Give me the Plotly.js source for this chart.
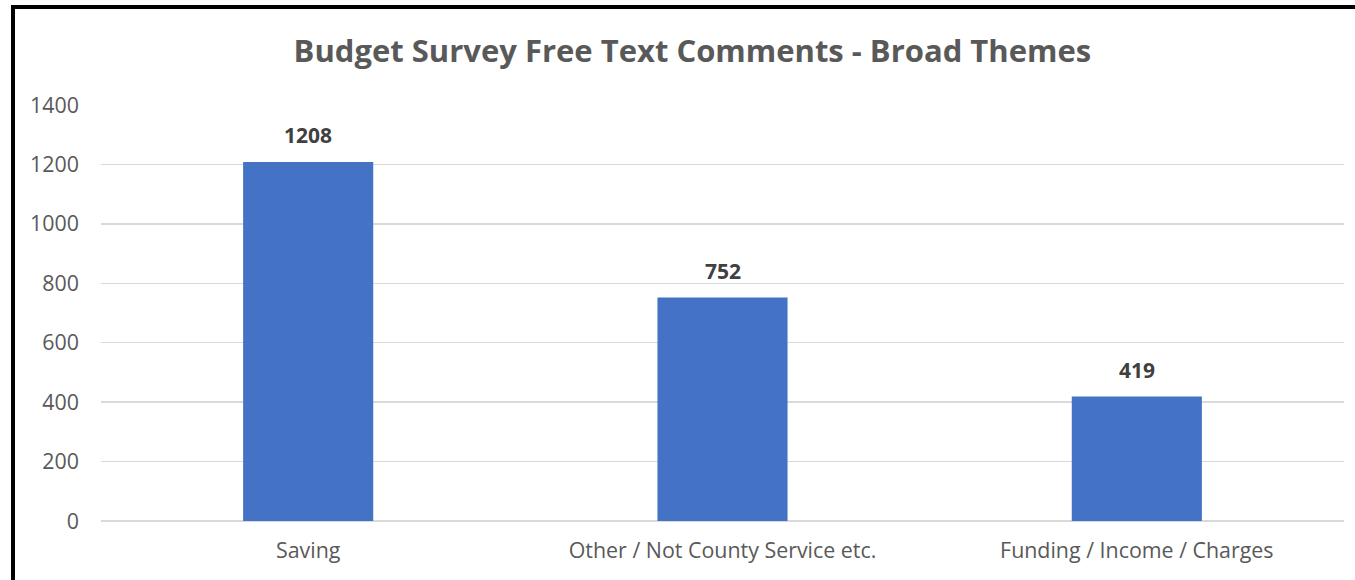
<!DOCTYPE html>
<html>
<head>
<meta charset="utf-8">
<script src="https://cdn.plot.ly/plotly-3.0.1.min.js"></script>
<style>
  html, body { margin: 0; padding: 0; background: #fff; }
  #chart { position: absolute; left: 0; top: 0; width: 1355px; height: 580px; }
  #frame { position: absolute; left: 11px; top: 5px; width: 1400px; height: 600px;
           border-left: 4px solid #000; border-top: 4px solid #000; pointer-events: none; box-sizing: border-box; }
</style>
</head>
<body>
<div id="chart"></div>
<div id="frame"></div>
<script>
const categories = ["Saving", "Other / Not County Service etc.", "Funding / Income / Charges"];
const counts = [1208, 752, 419];
const chartTitle = "Budget Survey Free Text Comments - Broad Themes";
const yTicks = [0, 200, 400, 600, 800, 1000, 1200, 1400];

const trace = {
  type: "bar",
  x: categories,
  y: counts,
  marker: { color: "#4472C4" },
  hoverinfo: "x+y"
};

const annotations = categories.map((c, i) => ({
  x: c, y: counts[i], xref: "x", yref: "y",
  text: String(counts[i]),
  showarrow: false, yanchor: "bottom", yshift: 11,
  font: { family: "Open Sans, sans-serif", size: 21, color: "#404040", weight: "bold" }
}));

const layout = {
  width: 1355, height: 580,
  margin: { l: 101, r: 11, t: 105, b: 59 },
  paper_bgcolor: "#ffffff", plot_bgcolor: "#ffffff",
  title: {
    text: "<b>" + chartTitle + "</b>",
    x: 0.511, xanchor: "center", y: 0.912, yanchor: "middle",
    font: { family: "Open Sans, sans-serif", size: 31, color: "#595959" }
  },
  bargap: 0.686,
  showlegend: false,
  xaxis: {
    type: "category",
    showgrid: false, zeroline: false, showline: false,
    ticks: "", ticklabelstandoff: 15,
    tickfont: { family: "Open Sans, sans-serif", size: 21.4, color: "#595959" }
  },
  yaxis: {
    range: [0, 1400],
    tickvals: yTicks,
    ticktext: yTicks.map(String),
    showgrid: true, gridcolor: "#d9d9d9", gridwidth: 1.3,
    zeroline: true, zerolinecolor: "#d9d9d9", zerolinewidth: 1.3,
    showline: false, ticks: "", ticklabelstandoff: 21,
    tickfont: { family: "Open Sans, sans-serif", size: 21.4, color: "#595959" }
  },
  annotations: annotations
};

Plotly.newPlot("chart", [trace], layout, { displayModeBar: false, staticPlot: true });
</script>
</body>
</html>
